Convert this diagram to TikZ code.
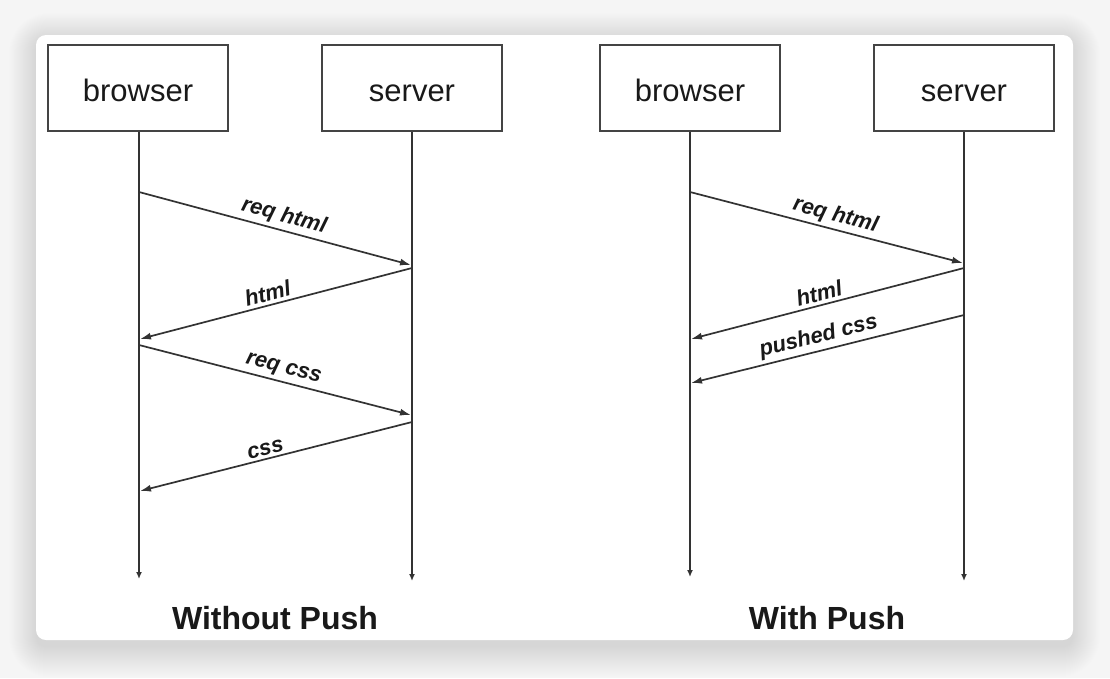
\documentclass[tikz,border=0pt]{standalone}
\usepackage{fontspec}
\setmainfont{Liberation Sans}
\usetikzlibrary{arrows.meta,calc}
\definecolor{bgc}{HTML}{F5F5F5}
\definecolor{linec}{HTML}{333333}
\definecolor{boxc}{HTML}{444444}
\begin{document}
\begin{tikzpicture}[x=1pt,y=-1pt,
  actor/.style={draw=boxc,line width=1.8pt,fill=white,minimum width=180pt,minimum height=86pt,inner sep=0pt},
  atext/.style={font=\fontsize{31}{34}\selectfont,anchor=base,text=black!90},
  life/.style={draw=linec,line width=1.6pt,-{Latex[length=7pt,width=6pt]}},
  msg/.style={draw=linec,line width=1.7pt,-{Latex[length=11pt,width=7pt]}},
  lbl/.style={font=\fontsize{22}{24}\selectfont\bfseries\itshape,sloped,above=2pt,text=black!90,inner sep=1pt},
  ttl/.style={font=\fontsize{32}{36}\selectfont\bfseries,text=black!90}]
\useasboundingbox (0,0) rectangle (1110,678);
\fill[bgc] (0,0) rectangle (1110,678);
% shadow
\foreach \i [evaluate=\i as \rr using 10+\i] in {0,...,30}{
  \fill[black,opacity=0.0045,rounded corners=\rr pt] ({36-0.9*\i},{40-0.9*\i}) rectangle ({1073+0.9*\i},{647+\i});
}
\fill[white,rounded corners=10pt] (36,35) rectangle (1073,640);

% actors
\node[actor] (b1) at (138,88) {};
\node[actor] (s1) at (412,88) {};
\node[actor] (b2) at (690,88) {};
\node[actor] (s2) at (964,88) {};
\node[atext] (b1t) at (138,101) {browser};
\node[atext] (s1t) at (412,101) {server};
\node[atext] (b2t) at (690,101) {browser};
\node[atext] (s2t) at (964,101) {server};

% lifeline ends
\coordinate (b1e) at (139,579);
\coordinate (s1e) at (412,581);
\coordinate (b2e) at (690,577);
\coordinate (s2e) at (964,581);
\draw[life] (b1e |- b1.south) -- (b1e);
\draw[life] (s1e |- s1.south) -- (s1e);
\draw[life] (b2e |- b2.south) -- (b2e);
\draw[life] (s2e |- s2.south) -- (s2e);

% message points (left)
\coordinate (l1a) at (139,192); \coordinate (l1b) at (411,265);
\coordinate (l2a) at (412,268); \coordinate (l2b) at (140,339);
\coordinate (l3a) at (139,345); \coordinate (l3b) at (411,415);
\coordinate (l4a) at (412,422); \coordinate (l4b) at (140,491);
% message points (right)
\coordinate (r1a) at (690,192); \coordinate (r1b) at (963,263);
\coordinate (r2a) at (964,268); \coordinate (r2b) at (691,339);
\coordinate (r3a) at (964,315); \coordinate (r3b) at (691,383);

\draw[msg] (l1a) -- node[lbl,pos=0.52] {req html} (l1b);
\draw[msg] (l2a) -- node[lbl,pos=0.52] {html} (l2b);
\draw[msg] (l3a) -- node[lbl,pos=0.52] {req css} (l3b);
\draw[msg] (l4a) -- node[lbl,pos=0.53] {css} (l4b);

\draw[msg] (r1a) -- node[lbl,pos=0.52] {req html} (r1b);
\draw[msg] (r2a) -- node[lbl,pos=0.52] {html} (r2b);
\draw[msg] (r3a) -- node[lbl,pos=0.52] {pushed css} (r3b);

\node[ttl] (t1) at (275,618) {Without Push};
\node[ttl] (t2) at (827,618) {With Push};
\end{tikzpicture}
\end{document}
